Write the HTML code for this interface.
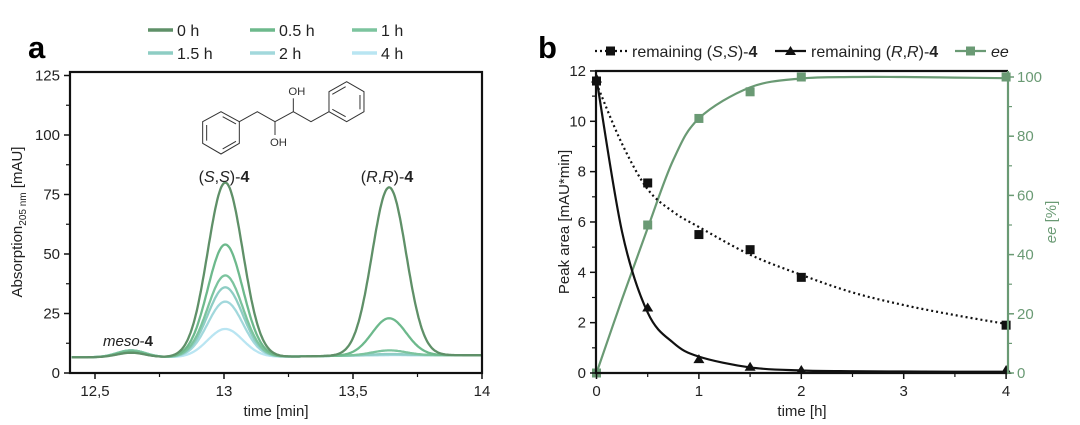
<!DOCTYPE html>
<html><head><meta charset="utf-8">
<style>
body{margin:0;background:#fff;}
svg{display:block;font-family:"Liberation Sans",Arial,sans-serif;}
</style></head>
<body>
<svg id="fig" width="1080" height="425" viewBox="0 0 1080 425">
<text x="28" y="58" font-size="31" font-weight="bold">a</text>
<text x="538" y="58" font-size="31" font-weight="bold">b</text>
<g id="legA"></g>
<g id="legB"></g>
<g id="plotA"></g>
<g id="plotB"></g>
<g transform="translate(180,80) scale(0.3333)" stroke="#333" stroke-width="3" fill="none">
<polygon points="123,95 178,125 178,190 123,222 68,190 68,125"/>
<polyline points="80,135 80,182"/><polyline points="128,110 168,132"/><polyline points="128,207 168,184"/>
<polyline points="178,125 232,95 285,125 340,95 393,125 447,95"/>
<polygon points="500,5 552,35 552,95 500,125 447,95 447,35"/>
<polyline points="540,45 540,88"/><polyline points="497,20 457,43"/><polyline points="497,110 457,88"/>
<line x1="285" y1="125" x2="285" y2="165"/><line x1="340" y1="95" x2="340" y2="55"/>
<text x="270" y="198" font-size="34" fill="#333" stroke="none">OH</text>
<text x="325" y="45" font-size="34" fill="#333" stroke="none">OH</text>
</g>
</svg>
<script>
const NS="http://www.w3.org/2000/svg";
// ---------- Panel A data ----------
const seriesA=["0 h","0.5 h","1 h","1.5 h","2 h","4 h"];
const colorsA=["#5f9068","#6db98c","#7cc49e","#8ecdc4","#a2d8dc","#b9e5f2"];
const ssHeights=[80,54,41,36,30,18.5];
const rrHeights=[78,23,9.5,8,7.6,7.5];
const mesoHeights=[8.5,9,9.5,9.5,9.5,9.5];
const ticksAX=[12.5,13,13.5,14];
const tickLabelsAX=["12,5","13","13,5","14"];
const ticksAY=[0,25,50,75,100,125];
// ---------- Panel B data ----------
const tB=[0,0.5,1,1.5,2,4];
const ssArea=[11.6,7.55,5.5,4.9,3.8,1.9];
const rrArea=[11.7,2.6,0.55,0.25,0.12,0.12];
const eeVals=[0,50,86,95,100,100];
const fitT=[0,0.25,0.5,0.75,1,1.5,2,2.5,3,3.5,4];
const ssFit=[11.5,9.1,7.3,6.4,5.8,4.7,3.9,3.2,2.7,2.3,1.95];
const rrFit=[11.7,5.6,2.4,1.2,0.65,0.22,0.1,0.07,0.06,0.05,0.05];
const eeFit=[0,25,49,72,86,96.5,99.5,100,100,99.8,99.6];
const ticksBX=[0,1,2,3,4];
const ticksBY=[0,2,4,6,8,10,12];
const ticksBY2=[0,20,40,60,80,100];

function el(tag,attrs,parent){const e=document.createElementNS(NS,tag);for(const k in attrs)e.setAttribute(k,attrs[k]);parent.appendChild(e);return e;}
function txt(parent,x,y,s,size,anchor,fill){const t=el('text',{x:x,y:y,'font-size':size,'text-anchor':anchor||'start',fill:fill||'#222'},parent);t.innerHTML=s;return t;}

// ---------- Panel A ----------
const A=document.getElementById('plotA');
const ax={x0:70,x1:482,y0:373,y1:72};
const xA=v=>224+(v-13)*258;
const yA=v=>373-v*2.38;
function baseA(t){return 6.6+0.9/(1+Math.exp(-(t-13.35)/0.12));}
function gauss(t,mu,s){return Math.exp(-0.5*((t-mu)/s)**2);}
for(let i=seriesA.length-1;i>=0;i--){
  let d="";
  for(let t=12.41;t<=14.0;t+=0.004){
    const b=baseA(t);
    const v=b+(ssHeights[i]-b)*gauss(t,13.005,0.068)+(rrHeights[i]-baseA(13.64))*gauss(t,13.64,0.066)+(mesoHeights[i]-6.6)*gauss(t,12.64,0.055);
    d+=(d?"L":"M")+xA(t).toFixed(1)+","+yA(v).toFixed(1);
  }
  const p=el('path',{d:d,fill:'none',stroke:colorsA[i],'stroke-width':2.3},A);
  
  
}
el('rect',{x:ax.x0,y:ax.y1,width:ax.x1-ax.x0,height:ax.y0-ax.y1,fill:'none',stroke:'#111','stroke-width':2.2},A);
ticksAX.forEach((v,i)=>{
  const x=xA(v);
  el('line',{x1:x,y1:373,x2:x,y2:379,stroke:'#111','stroke-width':1.5},A);
  const t=txt(A,x,396,tickLabelsAX[i],15,'middle');
  
  
  if(v<14) el('line',{x1:xA(v+0.25),y1:373,x2:xA(v+0.25),y2:377,stroke:'#111','stroke-width':1.2},A);
});
ticksAY.forEach(v=>{
  const y=yA(v);
  el('line',{x1:64,y1:y,x2:70,y2:y,stroke:'#111','stroke-width':1.5},A);
  if(v<125) el('line',{x1:66,y1:yA(v+12.5),x2:70,y2:yA(v+12.5),stroke:'#111','stroke-width':1.2},A);
  const t=txt(A,60,y+5,String(v),15,'end');
  
  
});
txt(A,276,416,"time [min]",15,'middle');
{const t=txt(A,0,0,'Absorption<tspan font-size="10" dy="4">205 nm</tspan><tspan dy="-4"> [mAU]</tspan>',15,'middle');
t.setAttribute('transform','translate(22,222) rotate(-90)');
}
txt(A,224,182,'(<tspan font-style="italic">S</tspan>,<tspan font-style="italic">S</tspan>)-<tspan font-weight="bold">4</tspan>',16,'middle');
txt(A,387,182,'(<tspan font-style="italic">R</tspan>,<tspan font-style="italic">R</tspan>)-<tspan font-weight="bold">4</tspan>',16,'middle');
txt(A,128,346,'<tspan font-style="italic">meso</tspan>-<tspan font-weight="bold">4</tspan>',15,'middle');

const LA=document.getElementById('legA');
seriesA.forEach((s,i)=>{
  const cx=148+(i%3)*102, cy=30+Math.floor(i/3)*23;
  const g=el('g',{},LA);
  
  
  el('line',{x1:cx,y1:cy,x2:cx+25,y2:cy,stroke:colorsA[i],'stroke-width':3.5},g);
  txt(g,cx+29,cy+6,s,16,'start');
});

// ---------- Panel B ----------
const B=document.getElementById('plotB');
const xB=v=>596.5+v*102.4;
const yB=v=>373-v*25.17;
const yB2=v=>373-v*2.96;
function smoothPath(xs,ys,fx,fy){
  const P=xs.map((x,i)=>[fx(x),fy(ys[i])]);let d="M"+P[0][0]+","+P[0][1];
  for(let i=0;i<P.length-1;i++){
    const p0=P[Math.max(0,i-1)],p1=P[i],p2=P[i+1],p3=P[Math.min(P.length-1,i+2)];
    const c1=[p1[0]+(p2[0]-p0[0])/6,p1[1]+(p2[1]-p0[1])/6],c2=[p2[0]-(p3[0]-p1[0])/6,p2[1]-(p3[1]-p1[1])/6];
    d+="C"+c1.join(",")+" "+c2.join(",")+" "+p2.join(",");
  }return d;}
{const p=el('path',{d:smoothPath(fitT,eeFit,xB,yB2),fill:'none',stroke:'#6a9a74','stroke-width':2.2},B);
}
{const p=el('path',{d:smoothPath(fitT,ssFit,xB,yB),fill:'none',stroke:'#111','stroke-width':2.2,'stroke-dasharray':'2 3'},B);
}
{const p=el('path',{d:smoothPath(fitT,rrFit,xB,yB),fill:'none',stroke:'#111','stroke-width':2.2},B);
}
tB.forEach((t,i)=>{
  const s=el('rect',{x:xB(t)-4.5,y:yB(ssArea[i])-4.5,width:9,height:9,fill:'#111'},B);
  
  const x=xB(t),y=yB(rrArea[i]);
  const tr=el('polygon',{points:`${x},${y-5} ${x+5.5},${y+4} ${x-5.5},${y+4}`,fill:'#111'},B);
  
  const e=el('rect',{x:xB(t)-4.5,y:yB2(eeVals[i])-4.5,width:9,height:9,fill:'#6a9a74'},B);
  
});
el('line',{x1:595,y1:71,x2:1008,y2:71,stroke:'#111','stroke-width':2.2},B);
el('line',{x1:595,y1:373,x2:1008,y2:373,stroke:'#111','stroke-width':2.2},B);
el('line',{x1:596,y1:71,x2:596,y2:374,stroke:'#111','stroke-width':2.2},B);
el('line',{x1:1008,y1:71,x2:1008,y2:374,stroke:'#6a9a74','stroke-width':2.2},B);
ticksBX.forEach(v=>{
  el('line',{x1:xB(v),y1:373,x2:xB(v),y2:379,stroke:'#111','stroke-width':1.5},B);
  if(v<4) el('line',{x1:xB(v+0.5),y1:373,x2:xB(v+0.5),y2:377,stroke:'#111','stroke-width':1.2},B);
  const t=txt(B,xB(v),396,String(v),15,'middle');
  
});
ticksBY.forEach(v=>{
  el('line',{x1:590,y1:yB(v),x2:596,y2:yB(v),stroke:'#111','stroke-width':1.5},B);
  if(v<12) el('line',{x1:592,y1:yB(v+1),x2:596,y2:yB(v+1),stroke:'#111','stroke-width':1.2},B);
  const t=txt(B,586,yB(v)+5,String(v),15,'end');
  
});
ticksBY2.forEach(v=>{
  el('line',{x1:1008,y1:yB2(v),x2:1014,y2:yB2(v),stroke:'#6a9a74','stroke-width':1.5},B);
  if(v<100) el('line',{x1:1008,y1:yB2(v+10),x2:1012,y2:yB2(v+10),stroke:'#6a9a74','stroke-width':1.2},B);
  const t=txt(B,1017,yB2(v)+5,String(v),15,'start','#6a9a74');
  
});
txt(B,802,416,"time [h]",15,'middle');
{const t=txt(B,0,0,'Peak area [mAU*min]',15,'middle');t.setAttribute('transform','translate(569,222) rotate(-90)');}
{const t=txt(B,0,0,'<tspan font-style="italic">ee</tspan> [%]',15,'middle','#6a9a74');t.setAttribute('transform','translate(1056,222) rotate(-90)');}

const LB=document.getElementById('legB');
{const g=el('g',{},LB);
el('line',{x1:595,y1:51,x2:628,y2:51,stroke:'#111','stroke-width':2.2,'stroke-dasharray':'2 3'},g);
el('rect',{x:606,y:46.5,width:9,height:9,fill:'#111'},g);
txt(g,632,57,'remaining (<tspan font-style="italic">S</tspan>,<tspan font-style="italic">S</tspan>)-<tspan font-weight="bold">4</tspan>',16);}
{const g=el('g',{},LB);
el('line',{x1:775,y1:51,x2:806,y2:51,stroke:'#111','stroke-width':2.2},g);
el('polygon',{points:'790.5,46 796,55 785,55',fill:'#111'},g);
txt(g,811,57,'remaining (<tspan font-style="italic">R</tspan>,<tspan font-style="italic">R</tspan>)-<tspan font-weight="bold">4</tspan>',16);}
{const g=el('g',{},LB);
el('line',{x1:955,y1:51,x2:986,y2:51,stroke:'#6a9a74','stroke-width':2.2},g);
el('rect',{x:966,y:46.5,width:9,height:9,fill:'#6a9a74'},g);
txt(g,991,57,'<tspan font-style="italic">ee</tspan>',16);}
</script>
</body></html>
